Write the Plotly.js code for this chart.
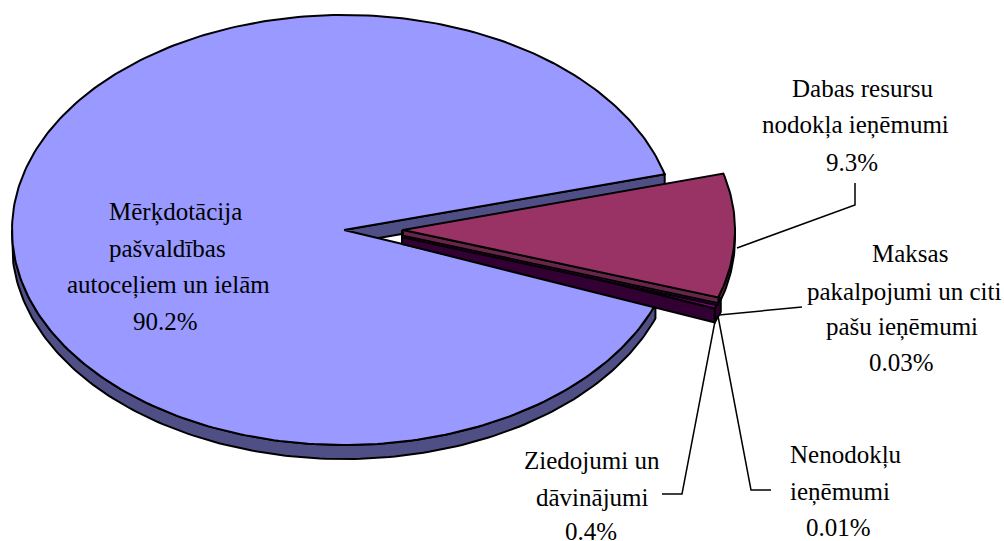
<!DOCTYPE html>
<html><head><meta charset="utf-8">
<script src="https://cdn.plot.ly/plotly-3.0.1.min.js"></script>
<style>html,body{margin:0;padding:0;background:#fff}</style></head>
<body><div id="chart" style="width:1004px;height:541px"></div>
<script>
// Data
const categories = ["Mērķdotācija pašvaldības autoceļiem un ielām","Dabas resursu nodokļa ieņēmumi","Maksas pakalpojumi un citi pašu ieņēmumi","Nenodokļu ieņēmumi","Ziedojumi un dāvinājumi"];
const shares = [90.2, 9.3, 0.03, 0.01, 0.4];
const shareLabels = ["90.2%","9.3%","0.03%","0.01%","0.4%"];
const labelLines = [
  ["Mērķdotācija","pašvaldības","autoceļiem un ielām"],
  ["Dabas resursu","nodokļa ieņēmumi"],
  ["Maksas","pakalpojumi un citi","pašu ieņēmumi"],
  ["Nenodokļu","ieņēmumi"],
  ["Ziedojumi un","dāvinājumi"]
];
// Layout / style (pixel-space drawing frame of the projected pie)
const topColors = ["#9999ff","#993366","#ffffcc","#ccffff","#800080"];
const sideColors = ["#4f4f85","#662549","#3a0a3a","#3a0a3a","#330033"];
const R = {cx:344, cy:230, rx:332, ry:215, depth:14};
const START = 15.2, EXPLODE = 59, MIN_SWEEP = 3.0;
const labelX = [[175,167.5,168,165.5],[862,855,852],[910,904,902,901],[846,840,838],[592,592.5,591]];
const labelY = [[212,248.5,285,321],[88,125,162],[253,291,327,362],[455,492,527],[460,497,531]];
const leaders = [
  [[737,248],[855,205],[855,183]],
  [[719,315],[802,307]],
  [[718,316],[751,490],[771,490]],
  [[716,316],[682,494],[662,494]]
];
const LW = 2;
const rad = d => d*Math.PI/180;
function rim(dx,a,dy=0){return [R.cx+dx+R.rx*Math.cos(rad(a)), R.cy+dy-R.ry*Math.sin(rad(a))];}
function arc(dx,a1,a2,dy=0){const n=Math.max(2,Math.ceil(Math.abs(a2-a1)));const o=[];for(let i=0;i<=n;i++)o.push(rim(dx,a1+(a2-a1)*i/n,dy));return o;}
function poly(pts,fill,lw=LW){const c=pts.concat([pts[0]]);return {type:'scatter',mode:'lines',x:c.map(p=>p[0]),y:c.map(p=>p[1]),fill:'toself',fillcolor:fill,line:{color:'#000',width:lw},hoverinfo:'skip',showlegend:false};}
function band(dx,a1,a2,d,fill){return poly(arc(dx,a1,a2).concat(arc(dx,a2,a1,d)),fill);}
function cutWall(dx,a,d,fill,lw){const apex=[R.cx+dx,R.cy];const e=rim(dx,a);return poly([apex,e,[e[0],e[1]+d],[apex[0],apex[1]+d]],fill,lw);}
function sector(dx,a1,a2,fill){return poly([[R.cx+dx,R.cy]].concat(arc(dx,a1,a2)),fill);}
const sw = shares.map(v=>v*3.6);
const traces=[];
// main slice
const mainEnd = START - 0.2 + sw[0];
traces.push(band(0,-(360-mainEnd),-180,R.depth,sideColors[0]));
traces.push(cutWall(0,START-0.2,R.depth,sideColors[0]));
traces.push(sector(0,START-0.2,mainEnd,topColors[0]));
// exploded slices
const a1 = START, a2 = a1-sw[1], a3 = a2-sw[2], a4 = a3-sw[3], a5 = a4-Math.max(sw[4],MIN_SWEEP);
traces.push(band(EXPLODE,0,a2,8,sideColors[1]));
R.rx = 336;
traces.push(band(EXPLODE-1,a4,a5,R.depth,sideColors[4]));
traces.push(cutWall(EXPLODE-1,a5,R.depth,sideColors[4]));
traces.push(sector(EXPLODE-1,a4,a5,topColors[4],1.5));
R.rx = 332;
traces.push(cutWall(EXPLODE,a4,8,sideColors[3],1));
traces.push(cutWall(EXPLODE,a3,7,sideColors[2],1));
traces.push(cutWall(EXPLODE,a2,5.5,sideColors[1],1.6));
traces.push(sector(EXPLODE,a1,a2,topColors[1]));
// leaders
leaders.forEach(l=>traces.push({type:'scatter',mode:'lines',x:l.map(p=>p[0]),y:l.map(p=>p[1]),line:{color:'#000',width:1.5},hoverinfo:'skip',showlegend:false}));
// labels
const annotations=[];
labelLines.forEach((ls,i)=>{
  ls.concat([shareLabels[i]]).forEach((t,j)=>{
    annotations.push({x:labelX[i][j],y:labelY[i][j],xref:'x',yref:'y',text:t,showarrow:false,xanchor:'center',yanchor:'middle',font:{family:'"Liberation Serif",serif',size:25,color:'#000'}});
  });
});
Plotly.newPlot('chart',traces,{
  width:1004,height:541,margin:{l:0,r:0,t:0,b:0},paper_bgcolor:'#fff',plot_bgcolor:'#fff',
  xaxis:{range:[0,1004],visible:false,fixedrange:true},
  yaxis:{range:[541,0],visible:false,fixedrange:true},
  annotations,showlegend:false
},{displayModeBar:false,staticPlot:true});
</script></body></html>
